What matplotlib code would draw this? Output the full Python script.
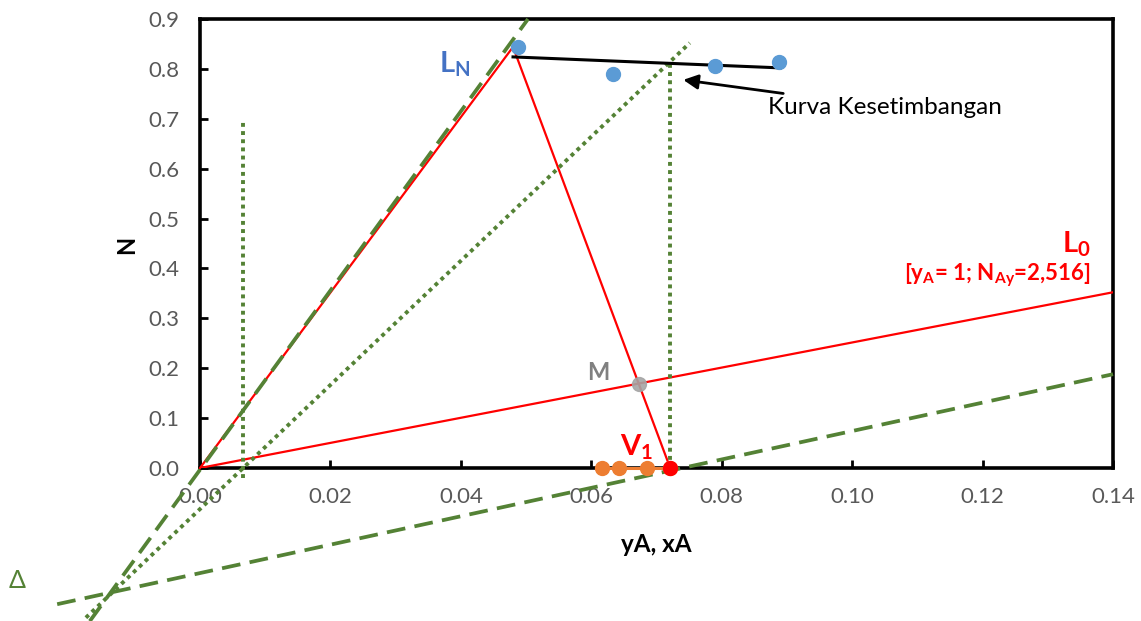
import matplotlib
matplotlib.use("Agg")
import matplotlib.pyplot as plt
import numpy as np

plt.rcParams['font.family'] = ['Lato', 'DejaVu Sans']
plt.rcParams['mathtext.default'] = 'regular'

# ---- data ----
eq_x = [0.0488, 0.0633, 0.0790, 0.0888]
eq_y = [0.844, 0.790, 0.806, 0.814]
eq_line_x = [0.0480, 0.0890]
eq_line_y = [0.824, 0.802]
raff_x = [0.0616, 0.0643, 0.0685, 0.0721]
raff_y = [0.0, 0.0, 0.0, 0.0]
V1 = (0.0721, 0.0)
LN = (0.0480, 0.844)
M = (0.0673, 0.169)
NAy = 2.516
L0_x = [0.0, 0.14]
L0_y = [0.0, 0.14 * NAy]
delta_line1_x = [-0.0169, 0.0503]
delta_line1_y = [-0.307, 0.900]
delta_line2_x = [-0.0219, 0.140]
delta_line2_y = [-0.273, 0.188]
dotted_x = [-0.0175, 0.0751]
dotted_y = [-0.300, 0.852]
vline1_x = [0.0066, 0.0066]
vline1_y = [-0.02, 0.70]
vline2_x = [0.0721, 0.0721]
vline2_y = [0.0, 0.815]
xticks = [0.00, 0.02, 0.04, 0.06, 0.08, 0.10, 0.12, 0.14]
yticks = [0.0, 0.1, 0.2, 0.3, 0.4, 0.5, 0.6, 0.7, 0.8, 0.9]

red = '#FF0000'
green = '#548235'
blue = '#5B9BD5'
orange = '#ED7D31'
gray = '#A5A5A5'
tickc = '#595959'

fig = plt.figure(figsize=(11.41, 6.21), dpi=100)
ax = fig.add_axes([200/1141, 1-468/621, 913/1141, 449/621])
ax.set_xlim(0, 0.14)
ax.set_ylim(0, 0.9)

dash = (0, (5, 2.5))
dots = (0, (1, 1.1))

# red lines
ax.plot([0, LN[0]], [0, LN[1]], color=red, lw=1.6, zorder=3, clip_on=False)
ax.plot(L0_x, L0_y, color=red, lw=1.6, zorder=3)
ax.plot([LN[0], V1[0]], [LN[1], V1[1]], color=red, lw=1.6, zorder=3)

# green construction lines
ax.plot(delta_line1_x, delta_line1_y, color=green, lw=2.7, ls=dash, zorder=4, clip_on=False)
ax.plot(delta_line2_x, delta_line2_y, color=green, lw=2.7, ls=dash, zorder=4, clip_on=False)
ax.plot(dotted_x, dotted_y, color=green, lw=2.8, ls=dots, zorder=4, clip_on=False)
ax.plot(vline1_x, vline1_y, color=green, lw=2.8, ls=dots, zorder=4, clip_on=False)
ax.plot(vline2_x, vline2_y, color=green, lw=2.8, ls=dots, zorder=4, clip_on=False)

# equilibrium
ax.plot(eq_line_x, eq_line_y, color='black', lw=2.2, zorder=5)
ax.plot(eq_x, eq_y, 'o', color=blue, ms=10, zorder=6, clip_on=False)

# raffinate
ax.plot(raff_x, raff_y, '-o', color=orange, ms=10, lw=2.2, zorder=6, clip_on=False)
ax.plot([V1[0]], [V1[1]], 'o', color=red, ms=10, zorder=7, clip_on=False)
ax.plot([M[0]], [M[1]], 'o', color=gray, ms=10, zorder=6, alpha=0.9)

# labels
ax.text(0.0414, 0.792, r'L$_{N}$', color='#4472C4', fontsize=21, fontweight='bold',
        ha='right', va='baseline', zorder=8)
ax.text(0.0628, 0.176, 'M', color='#808080', fontsize=17, fontweight='bold',
        ha='right', va='baseline', zorder=8)
ax.text(0.0695, 0.026, r'V$_{1}$', color=red, fontsize=21, fontweight='bold',
        ha='right', va='baseline', zorder=8)
ax.text(0.1366, 0.431, r'L$_{0}$', color=red, fontsize=21, fontweight='bold',
        ha='right', va='baseline', zorder=8)
ax.text(0.1366, 0.376, r'[y$_{A}$= 1; N$_{Ay}$=2,516]',
        color=red, fontsize=16, fontweight='bold', ha='right', va='baseline', zorder=8)
ax.annotate('Kurva Kesetimbangan', xy=(0.0741, 0.778), xytext=(0.0871, 0.723),
            fontsize=17.5, color='black', ha='left', va='center',
            arrowprops=dict(arrowstyle='-|>', color='black', lw=2, mutation_scale=22,
                            shrinkA=3, shrinkB=0), zorder=8)
ax.text(-0.0280, -0.225, 'Δ', color=green, fontsize=18, ha='center', va='center',
        clip_on=False)

# axes styling
ax.set_xticks(xticks)
ax.set_yticks(yticks)
ax.set_xticklabels([f'{v:.2f}' for v in xticks])
ax.set_yticklabels([f'{v:.1f}' for v in yticks])
ax.tick_params(direction='in', length=6, width=2, colors='black', labelcolor=tickc,
               labelsize=16, top=False, right=False)
ax.tick_params(axis='x', pad=14)
ax.tick_params(axis='y', pad=15)
for s in ax.spines.values():
    s.set_linewidth(2.6)
    s.set_color('black')
ax.text(0.5, -(545-468)/449, 'yA, xA', transform=ax.transAxes, fontsize=17.5,
        fontweight='bold', ha='center', va='center')
ax.text((127-200)/913, (468-245)/449, 'N', transform=ax.transAxes, fontsize=17,
        fontweight='bold', ha='center', va='center', rotation=90)

fig.savefig('out.png', dpi=100)
